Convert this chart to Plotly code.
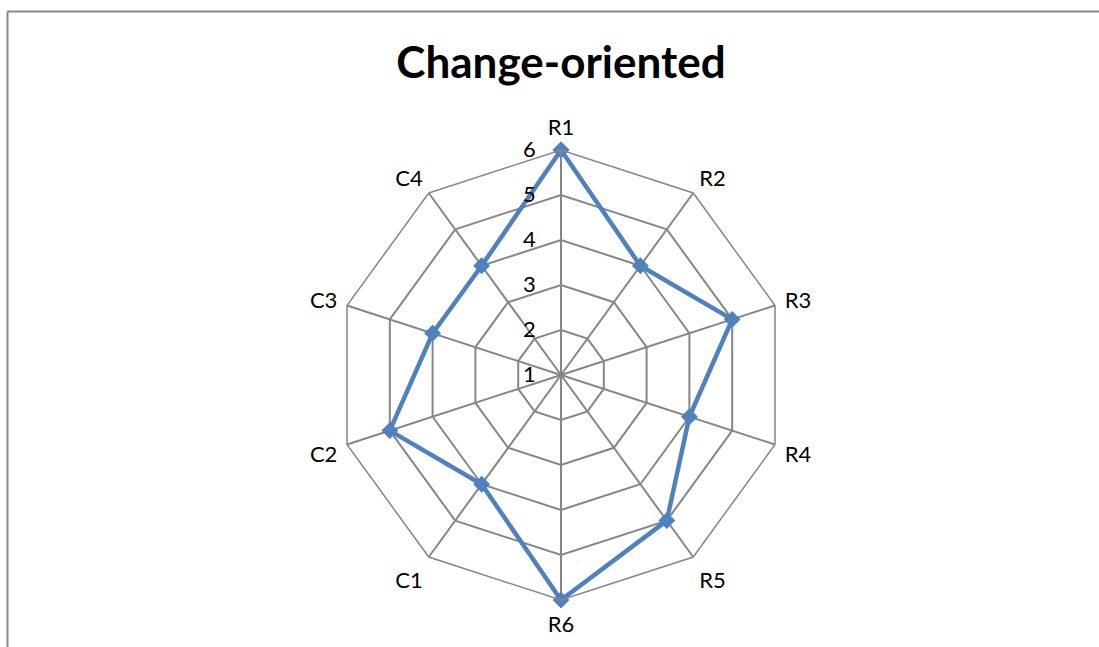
import plotly.graph_objects as go

categories = ["R1", "R2", "R3", "R4", "R5", "R6", "C1", "C2", "C3", "C4"]
values = [6, 4, 5, 4, 5, 6, 4, 5, 4, 4]
radial_ticks = [1, 2, 3, 4, 5, 6]

W, H = 1099, 647
cx, cy, R = 561, 375, 225

fig = go.Figure()
fig.add_trace(go.Scatterpolar(
    r=values + [values[0]],
    theta=categories + [categories[0]],
    mode="lines+markers",
    line=dict(color="#4F81BD", width=4.5),
    marker=dict(symbol="diamond", size=13, color="#4F81BD"),
    showlegend=False,
    hoverinfo="skip",
))

grid = "#868686"
FONT = "Lato, 'Open Sans', sans-serif"
fig.update_layout(
    width=W, height=H,
    margin=dict(l=0, r=0, t=0, b=0),
    paper_bgcolor="white",
    plot_bgcolor="white",
    font=dict(family=FONT, color="black"),
    title=dict(text="<b>Change-oriented</b>", x=561 / W, xanchor="center",
               y=1 - 63 / H, yanchor="middle",
               font=dict(size=44, color="black", family=FONT)),
    polar=dict(
        domain=dict(x=[(cx - R) / W, (cx + R) / W], y=[1 - (cy + R) / H, 1 - (cy - R) / H]),
        bgcolor="white",
        gridshape="linear",
        angularaxis=dict(
            direction="clockwise", rotation=90,
            categoryorder="array", categoryarray=categories,
            showline=True, linecolor=grid, linewidth=1.5,
            gridcolor=grid, gridwidth=1.5,
            ticks="outside", ticklen=5, tickcolor="rgba(0,0,0,0)",
            tickfont=dict(size=22, color="black"),
        ),
        radialaxis=dict(
            range=[1, 6], tickvals=radial_ticks, ticktext=[str(t) + "   " for t in radial_ticks],
            angle=90, tickangle=90, side="counterclockwise",
            showline=True, linecolor=grid, linewidth=1.5,
            gridcolor=grid, gridwidth=1.5,
            ticks="", tickfont=dict(size=22, color="black"),
        ),
    ),
    shapes=[
        dict(type="line", xref="paper", yref="paper", x0=7.5 / W, x1=1, y0=1 - 11.5 / H, y1=1 - 11.5 / H,
             line=dict(color="#888888", width=2)),
        dict(type="line", xref="paper", yref="paper", x0=7.5 / W, x1=7.5 / W, y0=0, y1=1 - 11.5 / H,
             line=dict(color="#888888", width=2)),
    ],
)

fig.write_html("out.html", config={"displayModeBar": False},
               post_script="document.body.style.margin='0';")
